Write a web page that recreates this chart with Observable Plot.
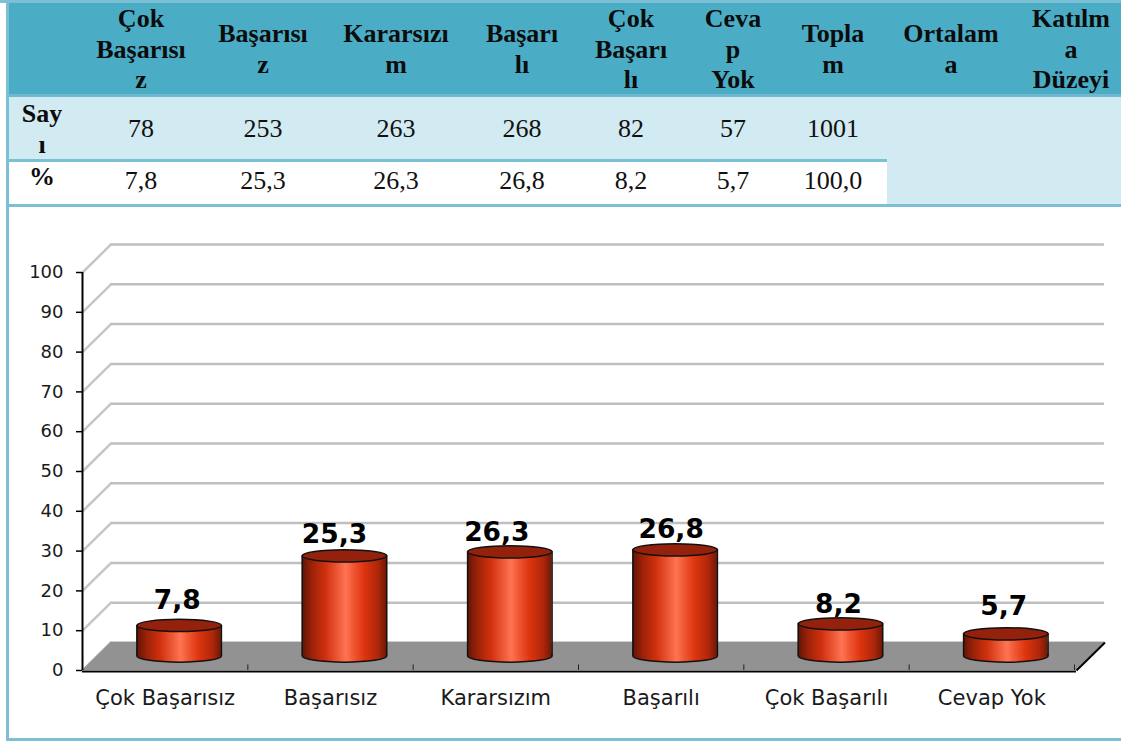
<!DOCTYPE html>
<html><head><meta charset="utf-8">
<style>
html,body{margin:0;padding:0;background:#fff}
#page{position:relative;width:1121px;height:741px;overflow:hidden;background:#fff}
.box{position:absolute}
.cell{position:absolute;text-align:center;font-family:"Liberation Serif",serif;color:#000;white-space:pre-line;transform:translate(-50%,0)}
.h{font-weight:bold;font-size:26px;line-height:30.7px;color:#0c0c0c}
.v{font-size:26px;line-height:30px;color:#111}
#chart{position:absolute;left:0;top:207px}
#chart svg{display:block;background:transparent}
</style>
<script src="https://cdn.jsdelivr.net/npm/d3@7"></script>
<script src="https://cdn.jsdelivr.net/npm/@observablehq/plot@0.6"></script>
</head><body><div id="page"></div>
<script>
const categories = ["Çok Başarısız","Başarısız","Kararsızım","Başarılı","Çok Başarılı","Cevap Yok"];
const percents = [7.8,25.3,26.3,26.8,8.2,5.7];
const counts = ["78","253","263","268","82","57","1001"];
const percentLabels = ["7,8","25,3","26,3","26,8","8,2","5,7","100,0"];
const headers = ["Çok\nBaşarısı\nz","Başarısı\nz","Kararsızı\nm","Başarı\nlı","Çok\nBaşarı\nlı","Ceva\np\nYok","Topla\nm","Ortalam\na","Katılm\na\nDüzeyi"];
const rowHeads = ["Say\nı","%"];
const yTicks = [0,10,20,30,40,50,60,70,80,90,100];

// layout
const colCenters = [141,263,396,522,631,733,833,951,1071];
const labelNudge = [[-2,-3],[-10,1],[-13,3],[-4,2],[-2,3],[-2,-5]];
const page = document.getElementById("page");
function box(l,t,w,h,c){const d=document.createElement("div");d.className="box";d.style.cssText=`left:${l}px;top:${t}px;width:${w}px;height:${h}px;background:${c}`;page.appendChild(d);}
function cell(txt,x,t,cls){const d=document.createElement("div");d.className="cell "+cls;d.style.left=x+"px";d.style.top=t+"px";d.textContent=txt;page.appendChild(d);}
const line="#7cc0d5";
box(0,0,1121,3,line);
box(8,3,1113,91,"#4bacc6");
box(8,94,1113,3,"#6fb8cf");
box(8,97,1113,62,"#d2eaf1");
box(8,159,879,3,line);
box(887,159,234,45,"#d2eaf1");
box(6,0,3,741,line);
box(8,204,1113,3,line);
box(6,738,1115,3,line);
headers.forEach((h,i)=>{
  const n=h.split("\n").length;
  cell(h,colCenters[i],n===3?4:19,"h");
});
cell(rowHeads[0],42,99,"h");
cell(rowHeads[1],42,162,"h");
counts.forEach((c,i)=>cell(c,colCenters[i],114,"v"));
percentLabels.forEach((c,i)=>cell(c,colCenters[i],166,"v"));

const rows = categories.map((c,i)=>({cat:c,v:percents[i],i,pos:i+.5,label:percents[i].toFixed(1).replace(".",",")}));
const ellipse = {draw(ctx,size){
  const rx=Math.sqrt(size/Math.PI), ry=rx*0.145, k=0.5523;
  ctx.moveTo(-rx,0);
  ctx.bezierCurveTo(-rx,-ry*k,-rx*k,-ry,0,-ry);
  ctx.bezierCurveTo(rx*k,-ry,rx,-ry*k,rx,0);
  ctx.bezierCurveTo(rx,ry*k,rx*k,ry,0,ry);
  ctx.bezierCurveTo(-rx*k,ry,-rx,ry*k,-rx,0);
  ctx.closePath();
}};
const depthX=0.1725, depthY=7.04, halfBar=0.2555, rx=42.3, bdx=14, bdy=-14, xEnd=6.012;
const grad=()=>{
  const s=d3.create("svg:defs");
  const g=s.append("linearGradient").attr("id","cyl").attr("x1",0).attr("x2",1).attr("y1",0).attr("y2",0);
  [[0,"#5f1405"],[.12,"#9c2208"],[.28,"#d0300e"],[.52,"#ff7453"],[.6,"#f25a36"],[.74,"#dc340f"],[.9,"#ae270a"],[1,"#701806"]]
    .forEach(([o,c])=>g.append("stop").attr("offset",o).attr("stop-color",c));
  return s.node();
};
const chart = Plot.plot({
  width:1121,height:532,marginLeft:82,marginRight:47,marginTop:65,marginBottom:69,
  style:{fontFamily:"'DejaVu Sans',Verdana,sans-serif",color:"#1a1a1a",background:"transparent"},
  x:{type:"linear",domain:[0,6],range:[82,1074]},
  y:{domain:[0,100],range:[463,65]},
  marks:[
    grad,
    Plot.ruleY(yTicks,{x1:0,x2:xEnd,dx:28,dy:-28,stroke:"#bfbfbf",strokeWidth:2.5}),
    Plot.link(yTicks,{x1:0,y1:d=>d,x2:depthX,y2:d=>d+depthY,stroke:"#c6c6c6",strokeWidth:2.5}),
    Plot.area([{a:0,b:0,c:depthX,d:depthY},{a:xEnd,b:0,c:xEnd+depthX,d:depthY}],{x1:"a",y1:"b",x2:"c",y2:"d",fill:"#929292"}),
    Plot.link([0],{x1:xEnd,y1:0,x2:xEnd+depthX,y2:depthY,stroke:"#000",strokeWidth:2}),
    Plot.ruleX([1,2,3,4,5,6],{y1:0,y2:1.4,stroke:"#222",strokeWidth:1}),
    Plot.ruleX([0],{y1:0,y2:100,stroke:"#000",strokeWidth:2}),
    Plot.ruleY([0],{x1:0,x2:xEnd,dy:1,stroke:"#000",strokeWidth:2}),
    Plot.axisY({ticks:yTicks,tickSize:6,tickPadding:13,fontSize:18,label:null,stroke:"#000",strokeWidth:1.5}),
    Plot.axisX({ticks:rows.map(d=>d.pos),tickFormat:p=>categories[p-.5],tickSize:0,tickPadding:20,fontSize:21,label:null}),
    // cylinders
    Plot.dot(rows,{x:"pos",y:()=>0,r:rx,symbol:ellipse,fill:"url(#cyl)",stroke:"#111",strokeWidth:1.5,dx:bdx,dy:bdy-.5}),
    Plot.rect(rows,{x1:d=>d.pos-halfBar,x2:d=>d.pos+halfBar,y1:()=>0,y2:"v",fill:"url(#cyl)",dx:bdx,dy:bdy}),
    Plot.ruleX(rows,{x:d=>d.pos-halfBar,y1:()=>0,y2:"v",stroke:"#111",strokeWidth:1.5,dx:bdx,dy:bdy}),
    Plot.ruleX(rows,{x:d=>d.pos+halfBar,y1:()=>0,y2:"v",stroke:"#111",strokeWidth:1.5,dx:bdx,dy:bdy}),
    Plot.dot(rows,{x:"pos",y:"v",r:rx,symbol:ellipse,fill:"#93210b",stroke:"#111",strokeWidth:1.5,dx:bdx,dy:bdy}),
    ...rows.map(r=>Plot.text([r],{x:"pos",y:"v",text:"label",fontSize:26.5,fontWeight:"bold",fill:"#000",
      dx:bdx+labelNudge[r.i][0],dy:bdy-22+labelNudge[r.i][1]}))
  ]
});
const holder=document.createElement("div");holder.id="chart";holder.appendChild(chart);page.appendChild(holder);
</script></body></html>
